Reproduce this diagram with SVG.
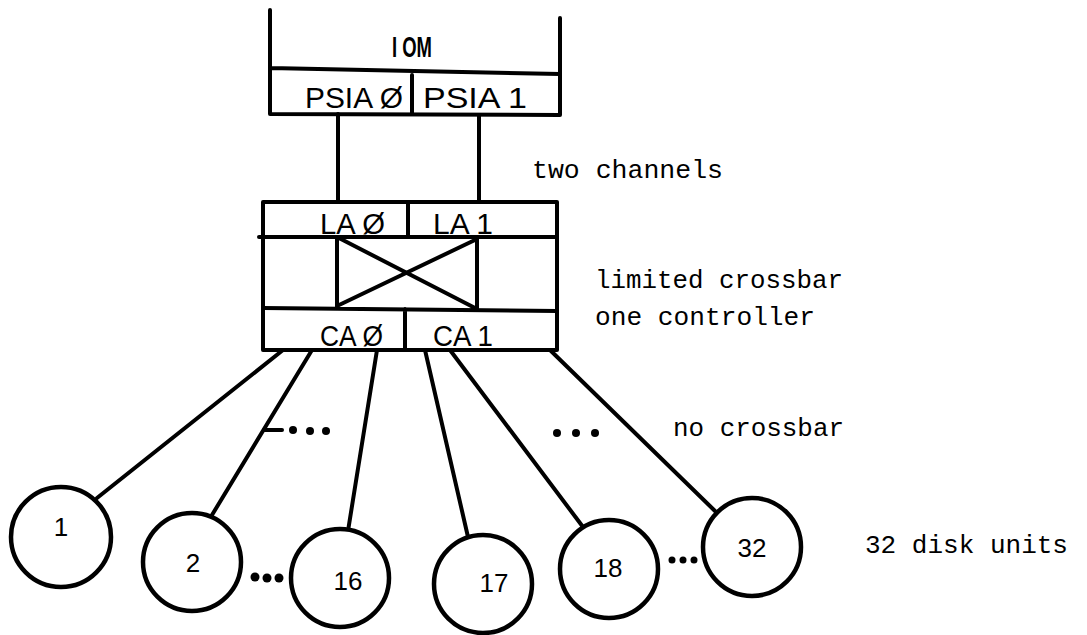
<svg xmlns="http://www.w3.org/2000/svg" width="1087" height="635" viewBox="0 0 1087 635">
<style>
.ln{stroke:#000;stroke-width:4;fill:none;stroke-linecap:round;stroke-linejoin:round}
.disk{fill:#fff;stroke:#000;stroke-width:4.5}
.note{font-family:"Liberation Mono","DejaVu Sans Mono",monospace;font-size:26px;fill:#000}
.box{font-family:"Liberation Sans",Arial,sans-serif;font-size:29px;fill:#000}
.num{font-family:"Liberation Sans",Arial,sans-serif;font-size:26px;fill:#000;text-anchor:middle}
.dot{fill:#000}
</style>
<rect width="1087" height="635" fill="#fff"/>
<g id="iom">
<path class="ln" d="M270,10 V114 M560,18 V115 M270,68 L560,74 M270,114 L560,115 M412,75 V114"/>
<text class="box" x="392" y="57" font-size="21" font-weight="bold" textLength="40" lengthAdjust="spacingAndGlyphs">I OM</text>
<text class="box" x="305" y="108" font-size="31" textLength="98" lengthAdjust="spacingAndGlyphs">PSIA Ø</text>
<text class="box" x="423" y="108" font-size="31" textLength="104" lengthAdjust="spacingAndGlyphs">PSIA 1</text>
</g>
<g id="connectors">
<path class="ln" d="M338,114 V202 M479,115 V202"/>
<path class="ln" d="M283,350 L97,498 M312,350 L212,515 M377,350 L348,531 M425,350 L468,537 M450,350 L583,527 M550,350 L715,511"/>
</g>
<g id="controller">
<rect class="ln" x="263" y="202" width="294" height="148"/>
<path class="ln" d="M259,237 H557 M408,202 V237 M337,237 V308 M477,237 V310 M263,308 L557,311 M405,309 V350 M337,237 L477,309 M477,239 L337,306"/>
<text class="box" x="320" y="234" textLength="65" lengthAdjust="spacingAndGlyphs">LA Ø</text>
<text class="box" x="433" y="234" textLength="60" lengthAdjust="spacingAndGlyphs">LA 1</text>
<text class="box" x="320" y="346" textLength="63" lengthAdjust="spacingAndGlyphs">CA Ø</text>
<text class="box" x="433" y="346" textLength="60" lengthAdjust="spacingAndGlyphs">CA 1</text>
</g>
<g id="disk1"><circle class="disk" cx="61" cy="537" r="50"/><text class="num" x="61" y="536">1</text></g>
<g id="disk2"><circle class="disk" cx="192" cy="562" r="49"/><text class="num" x="193" y="572">2</text></g>
<g id="disk16"><circle class="disk" cx="340" cy="578" r="49"/><text class="num" x="348" y="590">16</text></g>
<g id="disk17"><circle class="disk" cx="483" cy="584" r="49"/><text class="num" x="494" y="592">17</text></g>
<g id="disk18"><circle class="disk" cx="609" cy="569" r="49"/><text class="num" x="608" y="577">18</text></g>
<g id="disk32"><circle class="disk" cx="752" cy="547" r="49"/><text class="num" x="752" y="557">32</text></g>
<g id="ellipses">
<path class="ln" d="M264,430 H282" stroke-width="2"/>
<circle class="dot" cx="293" cy="430" r="4"/><circle class="dot" cx="310" cy="431" r="4"/><circle class="dot" cx="326" cy="431" r="4"/>
<circle class="dot" cx="557" cy="433" r="4"/><circle class="dot" cx="576" cy="433" r="4"/><circle class="dot" cx="595" cy="433" r="4"/>
<circle class="dot" cx="255" cy="577" r="4.5"/><circle class="dot" cx="267" cy="578" r="4.5"/><circle class="dot" cx="279" cy="578" r="4.5"/>
<circle class="dot" cx="672" cy="560" r="3.5"/><circle class="dot" cx="683" cy="560" r="3.5"/><circle class="dot" cx="694" cy="560" r="3.5"/>
</g>
<g id="notes">
<text class="note" x="532" y="178" textLength="191" lengthAdjust="spacingAndGlyphs">two channels</text>
<text class="note" x="595" y="288" textLength="248" lengthAdjust="spacingAndGlyphs">limited crossbar</text>
<text class="note" x="595" y="325" textLength="220" lengthAdjust="spacingAndGlyphs">one controller</text>
<text class="note" x="673" y="436" textLength="171" lengthAdjust="spacingAndGlyphs">no crossbar</text>
<text class="note" x="865" y="553" textLength="203" lengthAdjust="spacingAndGlyphs">32 disk units</text>
</g>
</svg>
